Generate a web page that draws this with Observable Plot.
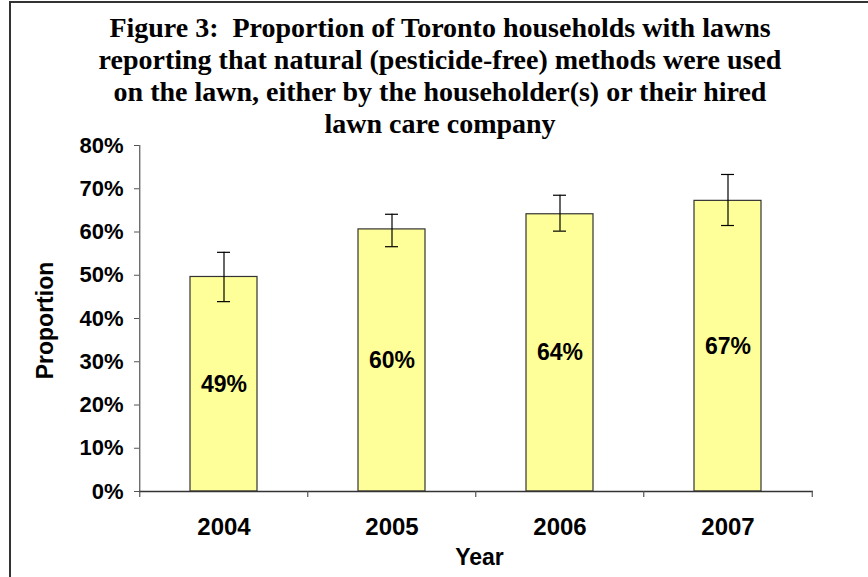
<!DOCTYPE html>
<html>
<head>
<meta charset="utf-8">
<script src="https://cdn.jsdelivr.net/npm/d3@7"></script>
<script src="https://cdn.jsdelivr.net/npm/@observablehq/plot@0.6"></script>
<style>
  html, body { margin: 0; padding: 0; background: #fff; }
  #wrap { position: relative; width: 868px; height: 577px; overflow: hidden; }
  #frame { position: absolute; left: 9px; top: 1px; width: 900px; height: 700px;
           border-left: 2px solid #333; border-top: 2px solid #333; box-sizing: border-box; }
  #title { position: absolute; left: 0; top: 12px; width: 880px; text-align: center;
           font-family: "Liberation Serif", "Times New Roman", serif; font-weight: bold;
           font-size: 28px; line-height: 32px; color: #000; }
  #chart { position: absolute; left: 0; top: 0; }
</style>
</head>
<body>
<div id="wrap">
  <div id="frame"></div>
  <div id="chart"></div>
  <div id="title">Figure 3:&nbsp; Proportion of Toronto households with lawns<br>reporting that natural (pesticide-free) methods were used<br>on the lawn, either by the householder(s) or their hired<br>lawn care company</div>
</div>
<script>
const years = ["2004", "2005", "2006", "2007"];
const values = [0.496, 0.606, 0.641, 0.672];
const lower = [0.439, 0.566, 0.602, 0.615];
const upper = [0.553, 0.641, 0.685, 0.733];
const labels = ["49%", "60%", "64%", "67%"];
const yTicks = [0, 0.1, 0.2, 0.3, 0.4, 0.5, 0.6, 0.7, 0.8];

const data = years.map((y, i) => ({year: y, value: values[i], lo: lower[i], hi: upper[i], label: labels[i]}));

const W = 868, H = 577;
const mL = 139, mR = 55, mT = 145, mB = 86;
const padIn = 0.6, padOut = 0.3;
const step = (W - mL - mR) / (years.length - padIn + 2 * padOut);
const half = step / 2;
const tickLen = 6 * 0.8 / (H - mT - mB);

const font = "'Liberation Sans', Arial, sans-serif";

const chart = Plot.plot({
  width: W,
  height: H,
  marginLeft: mL,
  marginRight: mR,
  marginTop: mT,
  marginBottom: mB,
  style: {fontFamily: font, background: "transparent", overflow: "visible"},
  x: {domain: years, paddingInner: padIn, paddingOuter: padOut, label: null},
  y: {domain: [0, 0.8], label: null},
  marks: [
    Plot.barY(data, {x: "year", y: "value", fill: "#FFFF99", stroke: "#333", strokeWidth: 1.2}),
    Plot.ruleX(data, {x: "year", y1: "lo", y2: "hi", stroke: "#000", strokeWidth: 1.2}),
    Plot.tickY(data, {x: "year", y: "lo", stroke: "#000", strokeWidth: 1.2, insetLeft: 27, insetRight: 27}),
    Plot.tickY(data, {x: "year", y: "hi", stroke: "#000", strokeWidth: 1.2, insetLeft: 27, insetRight: 27}),
    Plot.text(data, {x: "year", y: d => d.value / 2, text: "label", fontSize: 23, fontWeight: "bold", fill: "#000"}),
    // y axis
    Plot.axisY({ticks: yTicks, tickFormat: d3.format(".0%"), tickSize: 5, tickPadding: 11,
      fontSize: 22, fontWeight: "bold", stroke: "#555", fill: "#000", label: null}),
    Plot.ruleX([years[0]], {dx: -half, y1: 0, y2: 0.8, stroke: "#555", strokeWidth: 1.2}),
    // x axis baseline
    Plot.ruleY([0], {stroke: "#333", strokeWidth: 1.5}),
    // category boundary ticks
    Plot.ruleX(years, {x: d => d, dx: -half, y1: 0, y2: -tickLen, stroke: "#555", strokeWidth: 1.2}),
    Plot.ruleX([years[years.length - 1]], {dx: half, y1: 0, y2: -tickLen, stroke: "#555", strokeWidth: 1.2}),
    Plot.axisX({tickSize: 0, tickPadding: 26, fontSize: 24, fontWeight: "bold", fill: "#000", label: null}),
    Plot.text(["Year"], {frameAnchor: "bottom", dy: 73, dx: 3, text: d => d, fontSize: 23, fontWeight: "bold", fill: "#000"}),
    Plot.text(["Proportion"], {frameAnchor: "left", textAnchor: "middle", dx: -94, dy: 2, rotate: -90, text: d => d, fontSize: 23, fontWeight: "bold", fill: "#000"})
  ]
});
document.getElementById("chart").appendChild(chart);
</script>
</body>
</html>
